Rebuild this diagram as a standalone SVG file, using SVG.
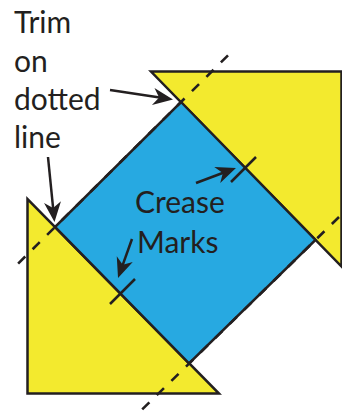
<svg xmlns="http://www.w3.org/2000/svg" width="342" height="412" viewBox="0 0 342 412">
<defs>
<style>
.tri{fill:#F3EA2E;stroke:#231F20;stroke-width:2.5}
.sq{fill:#27A9E1;stroke:#231F20;stroke-width:2.5}
.dash{fill:none;stroke:#231F20;stroke-width:2.6;stroke-dasharray:10 10.4}
.mark{fill:none;stroke:#231F20;stroke-width:2.5}
.arr{fill:none;stroke:#231F20;stroke-width:2.5;marker-end:url(#head)}
.lbl{font-family:Lato,"Open Sans","Liberation Sans",sans-serif;font-size:30px;fill:#231F20}
</style>
<marker id="head" viewBox="-12 -10 24 20" refX="0" refY="0" markerWidth="24" markerHeight="20" markerUnits="userSpaceOnUse" orient="auto">
<path d="M10,0 L-10,-8.5 L-4,0 L-10,8.5 Z" fill="#231F20"/>
</marker>
</defs>
<rect width="342" height="412" fill="#fff"/>
<g id="triangle-top">
<polygon class="tri" points="151,71.5 341.5,71.5 341.5,266.5"/>
</g>
<g id="triangle-bottom">
<polygon class="tri" points="27.5,199 27.5,393.5 219,393.5"/>
</g>
<g id="square">
<polygon class="sq" points="181,102 315.5,240 189,363.5 55,227"/>
</g>
<g id="connectors">
<line class="dash" x1="228" y1="55.4" x2="15" y2="266.7"/>
<line class="dash" x1="339" y1="217" x2="138" y2="413.5"/>
<line class="mark" x1="231" y1="182" x2="256" y2="157"/>
<line class="mark" x1="110" y1="304" x2="135" y2="279"/>
<line class="arr" x1="110" y1="90" x2="163.1" y2="98"/>
<line class="arr" x1="48" y1="157" x2="53.5" y2="212"/>
<line class="arr" x1="196" y1="183" x2="226.6" y2="171.5"/>
<line class="arr" x1="132" y1="239" x2="121.4" y2="268.6"/>
</g>
<g id="label-trim">
<text class="lbl" x="14" y="33">Trim</text>
<text class="lbl" x="14" y="71.5">on</text>
<text class="lbl" x="14" y="110">dotted</text>
<text class="lbl" x="14" y="148">line</text>
</g>
<g id="label-crease">
<text class="lbl" x="135" y="213">Crease</text>
<text class="lbl" x="137" y="253">Marks</text>
</g>
</svg>
